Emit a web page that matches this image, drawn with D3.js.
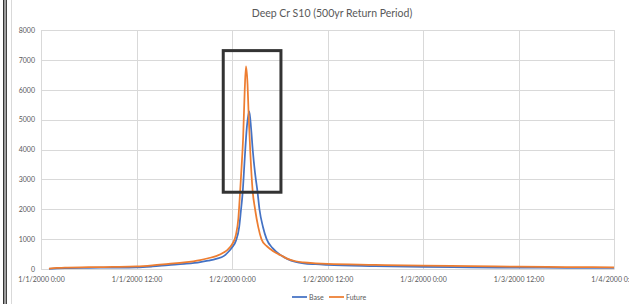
<!DOCTYPE html>
<html>
<head>
<meta charset="utf-8">
<script src="https://cdn.jsdelivr.net/npm/d3@7"></script>
<style>
  html, body { margin: 0; padding: 0; background: #fff; }
  svg { display: block; }
  text { font-family: Lato, "Open Sans", sans-serif; fill: #595959; }
</style>
</head>
<body>
<svg id="chart" width="629" height="304"></svg>
<script>
const title = "Deep Cr S10 (500yr Return Period)";
const seriesNames = ["Base", "Future"];
const seriesColors = ["#4472C4", "#ED7D31"];
const yTicks = [0, 1000, 2000, 3000, 4000, 5000, 6000, 7000, 8000];
const xTickHours = [0, 12, 24, 36, 48, 60, 72];

// hours after 1/1/2000 0:00
const baseHours = [1,2,3,6,9,12,14,16,18,20,21,22,23,23.5,24,24.5,24.9,25.1,25.35,25.6,25.85,26.17,26.4,26.6,26.9,27.2,27.45,27.9,28.35,29.1,30.2,31,32,33,34.5,36,42,48,54,60,66,72];
const baseFlow  = [5,20,30,40,45,55,85,130,170,230,280,340,440,560,720,950,1400,1900,2600,3700,4700,5280,4700,4000,3200,2600,2000,1400,1000,700,450,330,240,190,160,140,100,70,55,45,40,35];

const futureHours = [1,2,3,6,9,12,14,16,18,20,21,22,23,23.5,24,24.5,24.8,25,25.2,25.4,25.6,25.76,25.95,26.1,26.3,26.6,26.9,27.3,27.7,28.3,28.8,29.5,30.2,31,32,33,34.5,36,42,48,54,60,66,72];
const futureFlow  = [10,35,50,60,70,85,120,170,220,300,360,430,560,660,820,1150,1700,2500,3400,4400,6000,6780,6200,5100,3900,2600,2000,1400,1000,780,670,540,450,340,260,220,190,170,140,110,95,80,65,55];

// annotation box (data units)
const boxHours = [22.9, 30.15];
const boxFlow = [2570, 7310];

const start = new Date(2000, 0, 1, 0, 0);
const toDate = h => new Date(start.getTime() + h * 3600 * 1000);

const svg = d3.select("#chart");
const W = 629, H = 304;
const m = { left: 41, right: 15, top: 30, bottom: 35 };

const x = d3.scaleTime().domain([toDate(0), toDate(72)]).range([m.left, W - m.right]);
const y = d3.scaleLinear().domain([0, 8000]).range([H - m.bottom, m.top]);

// left frame lines
svg.append("rect").attr("x", 3).attr("y", 0).attr("width", 1.5).attr("height", H).attr("fill", "#333");
svg.append("rect").attr("x", 5.5).attr("y", 0).attr("width", 1.5).attr("height", H).attr("fill", "#444");
svg.append("line").attr("x1", 11.5).attr("x2", 11.5).attr("y1", 0).attr("y2", H).attr("stroke", "#d9d9d9");

// title
svg.append("text").attr("x", 332).attr("y", 17).attr("text-anchor", "middle")
  .style("font-size", "10.5px").text(title);

// horizontal gridlines
svg.append("g").selectAll("line").data(yTicks).join("line")
  .attr("x1", m.left).attr("x2", W - m.right)
  .attr("y1", d => Math.round(y(d)) + 0.5).attr("y2", d => Math.round(y(d)) + 0.5)
  .attr("stroke", "#d9d9d9").attr("stroke-width", 1);

// vertical gridlines
svg.append("g").selectAll("line").data(xTickHours).join("line")
  .attr("x1", d => Math.round(x(toDate(d))) + 0.5).attr("x2", d => Math.round(x(toDate(d))) + 0.5)
  .attr("y1", m.top).attr("y2", H - m.bottom)
  .attr("stroke", "#d9d9d9").attr("stroke-width", 1);

// y axis labels
const yAxis = d3.axisLeft(y).tickValues(yTicks).tickSize(0).tickPadding(6).tickFormat(d3.format("d"));
const gy = svg.append("g").attr("transform", `translate(${m.left},0)`).call(yAxis);
gy.select(".domain").remove();
gy.selectAll("text").style("font-size", "7px").style("font-family", "Lato, sans-serif").attr("fill", "#595959");

// x axis labels
const fmt = d3.timeFormat("%-m/%-d/%Y %-H:%M");
const xAxis = d3.axisBottom(x).tickValues(xTickHours.map(toDate)).tickSize(0).tickPadding(8).tickFormat(fmt);
const gx = svg.append("g").attr("transform", `translate(0,${H - m.bottom})`).call(xAxis);
gx.select(".domain").attr("stroke", "#d9d9d9");
gx.selectAll("text").style("font-size", "7px").style("font-family", "Lato, sans-serif").attr("fill", "#595959");

// series
const series = [
  { name: seriesNames[0], color: seriesColors[0], hours: baseHours, vals: baseFlow },
  { name: seriesNames[1], color: seriesColors[1], hours: futureHours, vals: futureFlow }
];
const line = d3.line().x(d => x(toDate(d[0]))).y(d => y(d[1])).curve(d3.curveMonotoneX);
svg.append("g").selectAll("path").data(series).join("path")
  .attr("d", s => line(s.hours.map((h, i) => [h, s.vals[i]])))
  .attr("fill", "none").attr("stroke", s => s.color).attr("stroke-width", 1.75)
  .attr("stroke-linejoin", "round");

// annotation box
svg.append("rect")
  .attr("x", x(toDate(boxHours[0]))).attr("y", y(boxFlow[1]))
  .attr("width", x(toDate(boxHours[1])) - x(toDate(boxHours[0])))
  .attr("height", y(boxFlow[0]) - y(boxFlow[1]))
  .attr("fill", "none").attr("stroke", "#333").attr("stroke-width", 3);

// legend
const lg = svg.append("g").attr("transform", "translate(292,297)");
const items = lg.selectAll("g").data(series).join("g")
  .attr("transform", (d, i) => `translate(${i * 37},0)`);
items.append("line").attr("x1", 0).attr("x2", 15).attr("y1", 0).attr("y2", 0)
  .attr("stroke", d => d.color).attr("stroke-width", 1.75);
items.append("text").attr("x", 17).attr("y", 2.5).style("font-size", "7px").text(d => d.name);
</script>
</body>
</html>
